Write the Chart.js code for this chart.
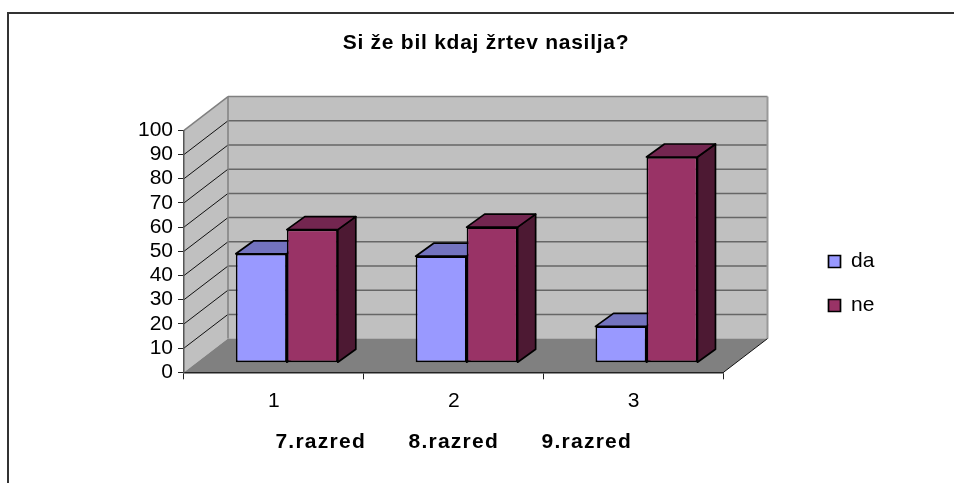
<!DOCTYPE html>
<html><head><meta charset="utf-8">
<style>html,body{margin:0;padding:0;background:#fff}canvas{display:block}</style>
<script src="https://cdn.jsdelivr.net/npm/chart.js@4"></script>
</head><body><canvas id="c" width="954" height="483"></canvas>
<script>
const categories = ['1', '2', '3'];
const seriesDa = [45, 44, 15];
const seriesNe = [55, 56, 85];
const titleText = 'Si že bil kdaj žrtev nasilja?';
const axisText = '7.razred      8.razred      9.razred';

const FONT = '"Liberation Sans", Arial, sans-serif';
const WALL = {dx: 44, dy: -33.7};
const SHIFT = {dx: 12.9, dy: -9.6};
const DEPTH = {dx: 18, dy: -13};
const SHADES = [{top: '#7373BF', side: '#4D4D80'}, {top: '#732650', side: '#4D1933'}];

function poly(ctx, pts, fill, stroke, lw) {
  ctx.beginPath();
  pts.forEach((p, i) => i ? ctx.lineTo(p[0], p[1]) : ctx.moveTo(p[0], p[1]));
  ctx.closePath();
  if (fill) { ctx.fillStyle = fill; ctx.fill(); }
  if (stroke) { ctx.strokeStyle = stroke; ctx.lineWidth = lw; ctx.stroke(); }
}
function line(ctx, x0, y0, x1, y1, c, lw) {
  ctx.beginPath(); ctx.moveTo(x0, y0); ctx.lineTo(x1, y1);
  ctx.strokeStyle = c; ctx.lineWidth = lw; ctx.stroke();
}
function spaced(obj, method, ctx, amount) {
  const orig = obj[method];
  obj[method] = function (...args) {
    ctx.letterSpacing = amount;
    orig.apply(this, args);
    ctx.letterSpacing = '0px';
  };
}

const scene = {
  id: 'scene',
  afterInit(chart) {
    spaced(chart.titleBlock, 'draw', chart.ctx, '0.75px');
  },
  afterLayout(chart) {
    const l = chart.legend;
    const pad = l.options.labels.padding;
    l.left = 828.5 - pad; l.right = 954; l.top = 251 - pad; l.bottom = 400;
    l.width = l.right - l.left; l.height = l.bottom - l.top;
    chart.titleBlock.left = 18; chart.titleBlock.right = 954;
    if (!chart.scales.x._spaced) {
      spaced(chart.scales.x, 'drawTitle', chart.ctx, '1.25px');
      chart.scales.x._spaced = true;
    }
  },
  beforeDraw(chart) {
    const ctx = chart.ctx, y = chart.scales.y, a = chart.chartArea;
    const {dx, dy} = WALL;
    const y0 = y.getPixelForValue(0), y100 = y.getPixelForValue(100);
    ctx.save();
    ctx.fillStyle = '#fff'; ctx.fillRect(0, 0, chart.width, chart.height);
    line(ctx, 8, 12, 8, 483, '#333', 2);
    line(ctx, 7, 13, 954, 13, '#333', 2);
    poly(ctx, [[a.left + dx, y100 + dy], [a.right + dx, y100 + dy], [a.right + dx, y0 + dy], [a.left + dx, y0 + dy]], '#C0C0C0');
    poly(ctx, [[a.left, y100], [a.left + dx, y100 + dy], [a.left + dx, y0 + dy], [a.left, y0]], '#C0C0C0');
    poly(ctx, [[a.left, y0], [a.right, y0], [a.right + dx, y0 + dy], [a.left + dx, y0 + dy]], '#808080');
    y.ticks.forEach(t => {
      const p = y.getPixelForValue(t.value);
      if (t.value > 0 && t.value < 100) {
        line(ctx, a.left + dx, p + dy, a.right + dx, p + dy, '#666', 1.5);
        line(ctx, a.left, p, a.left + dx, p + dy, '#111', 1);
      }
    });
    line(ctx, a.left, y100, a.left + dx, y100 + dy, '#808080', 1.5);
    line(ctx, a.left + dx, y100 + dy, a.right + dx, y100 + dy, '#808080', 1.5);
    line(ctx, a.left + dx, y100 + dy, a.left + dx, y0 + dy, '#808080', 1.5);
    line(ctx, a.right + dx, y100 + dy, a.right + dx, y0 + dy, '#999', 2);
    line(ctx, a.right, y0, a.right + dx, y0 + dy, '#111', 1);
    ctx.restore();
  },
  beforeDatasetsDraw(chart) {
    const ctx = chart.ctx;
    ctx.save();
    ctx.translate(SHIFT.dx, SHIFT.dy);
    chart.data.datasets.forEach((d, i) => {
      chart.getDatasetMeta(i).data.forEach(b => {
        const L = b.x - b.width / 2, R = b.x + b.width / 2, T = b.y, B = b.base;
        const {dx, dy} = DEPTH;
        ctx.lineJoin = 'round';
        poly(ctx, [[R, T], [R + dx, T + dy], [R + dx, B + dy], [R, B]], SHADES[i].side, '#000', 1.7);
        poly(ctx, [[L, T], [L + dx, T + dy], [R + dx, T + dy], [R, T]], SHADES[i].top, '#000', 1.7);
      });
    });
  },
  afterDatasetsDraw(chart) { chart.ctx.restore(); }
};

new Chart(document.getElementById('c'), {
  type: 'bar',
  plugins: [scene],
  data: {
    labels: categories,
    datasets: [
      {label: 'da', data: seriesDa, backgroundColor: '#9999FF', borderColor: '#000', borderWidth: 1.7, borderSkipped: false, clip: false, categoryPercentage: 0.567, barPercentage: 1},
      {label: 'ne', data: seriesNe, backgroundColor: '#993366', borderColor: '#000', borderWidth: 1.7, borderSkipped: false, clip: false, categoryPercentage: 0.567, barPercentage: 1}
    ]
  },
  options: {
    responsive: false,
    animation: false,
    layout: {padding: {left: 18, right: 230.5, top: 0, bottom: 0}},
    plugins: {
      tooltip: {enabled: false},
      title: {display: true, text: titleText, color: '#000',
        font: {family: FONT, size: 21, weight: 'bold'},
        padding: {top: 30.9, bottom: 74.2}},
      legend: {position: 'chartArea', align: 'start',
        labels: {boxWidth: 12, boxHeight: 12, padding: 23, color: '#000',
          font: {family: FONT, size: 21}}}
    },
    scales: {
      x: {
        afterFit: s => { s.height = 110.7; },
        grid: {drawOnChartArea: false, color: '#222', tickLength: 7, offset: true},
        border: {color: '#222', width: 1.5},
        ticks: {color: '#000', padding: 9, maxRotation: 0,
          font: {family: FONT, size: 21}},
        title: {display: true, text: axisText, color: '#000',
          font: {family: FONT, size: 21, weight: 'bold'},
          padding: {top: 10, bottom: 27.7}}
      },
      y: {
        min: 0, max: 100,
        afterFit: s => { s.width = 166; },
        grid: {drawOnChartArea: false, color: '#222', tickLength: 6},
        border: {color: '#555', width: 1.5},
        ticks: {stepSize: 10, autoSkip: false, color: '#000', padding: 5,
          font: {family: FONT, size: 21}}
      }
    }
  }
});
</script></body></html>
